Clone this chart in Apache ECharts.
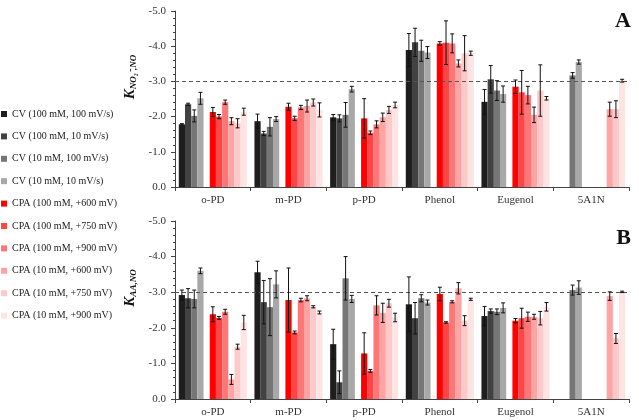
<!DOCTYPE html>
<html>
<head>
<meta charset="utf-8">
<script src="https://cdn.jsdelivr.net/npm/echarts@6/dist/echarts.min.js"></script>
<style>
  html, body { margin: 0; padding: 0; background: #fff; }
  #main { width: 639px; height: 420px; }
</style>
</head>
<body>
<div id="main"></div>
<script>
const categories = ["o-PD", "m-PD", "p-PD", "Phenol", "Eugenol", "5A1N"];
const seriesNames = [
  "CV (100 mM, 100 mV/s)", "CV (100 mM, 10 mV/s)", "CV (10 mM, 100 mV/s)", "CV (10 mM, 10 mV/s)",
  "CPA (100 mM, +600 mV)", "CPA (100 mM, +750 mV)", "CPA (100 mM, +900 mV)",
  "CPA (10 mM, +600 mV)", "CPA (10 mM, +750 mV)", "CPA (10 mM, +900 mV)"
];
const colors = ["#1e1e1e", "#424242", "#767676", "#a8a8a8",
  "#ff0000", "#ff4545", "#ff7676", "#ffa3a3", "#ffc9c9", "#ffe4e4"];

// panel A : K(NO2-,NO), one row per series, one value per category
const valuesA = [
  [-1.78, -1.87, -1.98, -3.89, -2.42, null],
  [-2.35, -1.52, -1.95, -4.11, -3.06, null],
  [-2.02, -1.71, -2.05, -3.87, -2.74, -3.17],
  [-2.52, -1.93, -2.78, -3.82, -2.64, -3.55],
  [-2.13, -2.28, -1.95, -4.08, -2.85, null],
  [-2.00, -1.95, -1.54, -4.10, -2.69, null],
  [-2.41, -2.26, -1.78, -4.08, -2.61, null],
  [-1.87, -2.30, -1.98, -3.51, -2.05, -2.21],
  [-1.81, -2.40, -2.19, -3.80, -2.74, -2.21],
  [-2.14, -2.19, -2.33, -3.80, -2.52, -3.02]
];
const errorsA = [
  [0.02, 0.20, 0.08, 0.47, 0.35, null],
  [0.03, 0.06, 0.10, 0.40, 0.39, null],
  [0.17, 0.26, 0.35, 0.30, 0.28, 0.08],
  [0.17, 0.07, 0.08, 0.17, 0.23, 0.06],
  [0.13, 0.10, 0.56, 0.05, 0.19, null],
  [0.06, 0.06, 0.05, 0.62, 0.62, null],
  [0.06, 0.06, 0.10, 0.27, 0.25, null],
  [0.10, 0.17, 0.12, 0.10, 0.22, 0.20],
  [0.13, 0.10, 0.10, 0.50, 0.73, 0.24],
  [0.10, 0.20, 0.08, 0.06, 0.05, 0.04]
];

// panel B : K(AA,NO)
const valuesB = [
  [-2.92, -3.56, -1.54, -2.66, -2.33, null],
  [-2.83, -2.72, -0.47, -2.27, -2.47, null],
  [-2.81, -2.58, -3.39, -2.83, -2.45, -3.06],
  [-3.60, -3.22, -2.81, -2.71, -2.56, -3.13],
  [-2.38, -2.78, -1.28, -2.95, -2.20, null],
  [-2.28, -1.87, -0.79, -2.15, -2.27, null],
  [-2.45, -2.78, -2.63, -2.73, -2.31, null],
  [-0.55, -2.83, -2.42, -3.11, -2.31, -2.89],
  [-1.47, -2.59, -2.69, -2.20, -2.27, -1.70],
  [-2.15, -2.43, -2.29, -2.80, -2.59, -3.01]
];
const errorsB = [
  [0.14, 0.31, 0.42, 0.77, 0.27, null],
  [0.27, 0.61, 0.32, 0.44, 0.06, null],
  [0.25, 0.80, 0.61, 0.10, 0.08, 0.14],
  [0.08, 0.38, 0.10, 0.07, 0.14, 0.19],
  [0.21, 0.90, 0.58, 0.19, 0.06, null],
  [0.04, 0.04, 0.04, 0.02, 0.28, null],
  [0.07, 0.05, 0.27, 0.03, 0.13, null],
  [0.14, 0.07, 0.27, 0.16, 0.07, 0.12],
  [0.07, 0.03, 0.11, 0.14, 0.19, 0.14],
  [0.20, 0.04, 0.12, 0.03, 0.12, 0.02]
];

const yTicks = [-5, -4, -3, -2, -1, 0];
const refLine = -3;

const FONT = "Liberation Serif";
const SLOTS = 11;        // 10 bars + 1 empty slot between CV and CPA groups
const CAT_GAP = 0.1;

function slotOf(i) { return i < 4 ? i : i + 1; }

function buildPanel(gi, values, errors) {
  const out = [];
  for (let i = 0; i < seriesNames.length; i++) {
    out.push({
      name: seriesNames[i], type: "bar", xAxisIndex: gi, yAxisIndex: gi,
      data: values[i], barGap: 0, barCategoryGap: CAT_GAP * 100 + "%",
      itemStyle: { color: colors[i] }, silent: true
    });
    if (i === 3) {
      // spacer
      out.push({
        name: "spacer" + gi, type: "bar", xAxisIndex: gi, yAxisIndex: gi,
        data: categories.map(() => null), barGap: 0, barCategoryGap: CAT_GAP * 100 + "%"
      });
    }
  }
  out[0].markLine = {
    silent: true, symbol: "none", label: { show: false },
    lineStyle: { type: [4, 3], color: "#555", width: 1 },
    data: [{ yAxis: refLine }]
  };
  let errData = [];
  for (let i = 0; i < seriesNames.length; i++) {
    for (let c = 0; c < categories.length; c++) {
      if (values[i][c] == null) continue;
      errData.push([c, values[i][c], errors[i][c], slotOf(i)]);
    }
  }
  out.push({
    name: "err" + gi, type: "custom", xAxisIndex: gi, yAxisIndex: gi, z: 5, silent: true,
    data: errData,
    renderItem: function (params, api) {
      const c = api.value(0), v = api.value(1), e = api.value(2), s = api.value(3);
      const cw = api.size([1, 0])[0];
      const bw = cw * (1 - CAT_GAP) / SLOTS;
      const mid = api.coord([c, v]);
      const x = mid[0] + (s - (SLOTS - 1) / 2) * bw;
      const y1 = api.coord([c, v - e])[1];
      const y2 = api.coord([c, v + e])[1];
      const st = { stroke: "#111", lineWidth: 1 };
      return {
        type: "group", children: [
          { type: "line", shape: { x1: x, y1: y1, x2: x, y2: y2 }, style: st },
          { type: "line", shape: { x1: x - 2, y1: y1, x2: x + 2, y2: y1 }, style: st },
          { type: "line", shape: { x1: x - 2, y1: y2, x2: x + 2, y2: y2 }, style: st }
        ]
      };
    }
  });
  return out;
}

function yAxis(gi, label) {
  return {
    type: "value", gridIndex: gi, min: yTicks[0], max: yTicks[yTicks.length - 1],
    interval: 1, inverse: true,
    axisLine: { show: true, lineStyle: { color: "#444" } },
    axisTick: { show: true, inside: false, length: 4, lineStyle: { color: "#444" } },
    minorTick: { show: true, splitNumber: 5, length: 2, lineStyle: { color: "#444" } },
    splitLine: { show: false },
    axisLabel: {
      color: "#333", fontFamily: FONT, fontSize: 11, margin: 9,
      formatter: v => (v === 0 ? 0 : v).toFixed(1)
    },
    name: label, nameLocation: "middle", nameRotate: 90, nameGap: 34,
    nameTextStyle: {
      padding: [0, 0, 0, 44],
      rich: {
        k: { fontFamily: FONT, fontSize: 15, fontWeight: "bold", fontStyle: "italic", color: "#111", verticalAlign: "bottom", lineHeight: 16 },
        s: { fontFamily: FONT, fontSize: 9, fontWeight: "bold", fontStyle: "italic", color: "#111", verticalAlign: "bottom", lineHeight: 14 }
      }
    }
  };
}

function xAxis(gi) {
  return {
    type: "category", gridIndex: gi, data: categories,
    axisLine: { show: true, lineStyle: { color: "#444" } },
    axisTick: { show: true, length: 4, lineStyle: { color: "#444" } },
    axisLabel: { color: "#333", fontFamily: FONT, fontSize: 11, margin: 8 }
  };
}

const chart = echarts.init(document.getElementById("main"), null, { renderer: "canvas" });
chart.setOption({
  animation: false,
  backgroundColor: "#fff",
  legend: {
    data: seriesNames, orient: "vertical", left: -4, top: 104,
    icon: "rect", itemWidth: 6, itemHeight: 6, itemGap: 12.4,
    selectedMode: false,
    textStyle: { fontFamily: FONT, fontSize: 10, color: "#222" }
  },
  grid: [
    { left: 175, right: 10, top: 11, height: 176 },
    { left: 175, right: 10, top: 221, height: 178 }
  ],
  xAxis: [xAxis(0), xAxis(1)],
  yAxis: [yAxis(0, "{k|K}{s|NO₂⁻,NO}"), yAxis(1, "{k|K}{s|AA,NO}")],
  title: [
    { text: "A", right: 3, top: 5, textStyle: { fontFamily: FONT, fontSize: 22, fontWeight: "bold", color: "#111" } },
    { text: "B", right: 3, top: 222, textStyle: { fontFamily: FONT, fontSize: 22, fontWeight: "bold", color: "#111" } }
  ],
  series: buildPanel(0, valuesA, errorsA).concat(buildPanel(1, valuesB, errorsB))
});
</script>
</body>
</html>
